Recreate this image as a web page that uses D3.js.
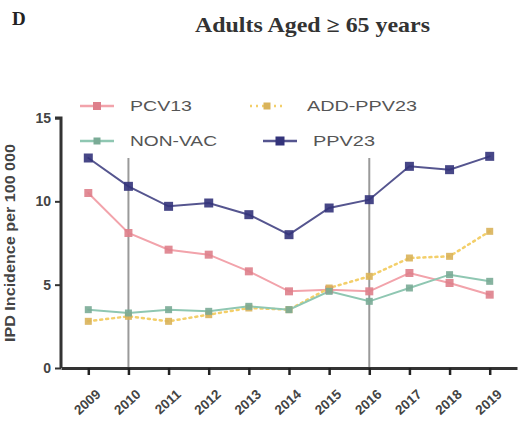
<!DOCTYPE html>
<html><head><meta charset="utf-8">
<script src="https://cdn.jsdelivr.net/npm/d3@7/dist/d3.min.js"></script>
<style>body{margin:0;background:#fff}svg{display:block}</style>
</head><body><svg id="c" width="519" height="421"></svg>
<script>
const years = [2009,2010,2011,2012,2013,2014,2015,2016,2017,2018,2019];
const pcv13 = [10.5,8.1,7.1,6.8,5.8,4.6,4.7,4.6,5.7,5.1,4.4];
const addPpv23 = [2.8,3.1,2.8,3.2,3.6,3.5,4.8,5.5,6.6,6.7,8.2];
const nonVac = [3.5,3.3,3.5,3.4,3.7,3.5,4.6,4.0,4.8,5.6,5.2];
const ppv23 = [12.6,10.9,9.7,9.9,9.2,8.0,9.6,10.1,12.1,11.9,12.7];
const yTicks = [0,5,10,15];
const markYears = [2010,2016];
const seriesNames = ["PCV13","ADD-PPV23","NON-VAC","PPV23"];

const svg = d3.select("#c");
const x = d3.scalePoint().domain(years).range([61,517]).padding(0.68);
const y = d3.scaleLinear().domain([0,15]).range([368,118]);

const series = [
  {name:seriesNames[0], vals:pcv13, line:"#f2a3ab", mark:"#de7f8b", dash:null, size:8},
  {name:seriesNames[1], vals:addPpv23, line:"#f3cf6a", mark:"#d9b35a", dash:"2,4", size:7},
  {name:seriesNames[2], vals:nonVac, line:"#8fc7b2", mark:"#7aab96", dash:null, size:7},
  {name:seriesNames[3], vals:ppv23, line:"#55558f", mark:"#33337a", dash:null, size:9}
];

// title
svg.append("text").attr("x",12).attr("y",25).attr("font-family","Liberation Serif")
  .attr("font-weight","bold").attr("font-size",19).attr("fill","#222").text("D");
svg.append("text").attr("x",195).attr("y",32).attr("font-family","Liberation Serif")
  .attr("font-weight","bold").attr("font-size",21).attr("fill","#333")
  .attr("textLength",235).attr("lengthAdjust","spacingAndGlyphs").text("Adults Aged ≥ 65 years");

// vertical reference lines
markYears.forEach(yr=>{
  svg.append("line").attr("x1",x(yr)).attr("x2",x(yr)).attr("y1",158).attr("y2",368)
    .attr("stroke","#9a9a9a").attr("stroke-width",2);
});

// axes
const yAxis = svg.append("g").attr("transform","translate(61,0)")
  .call(d3.axisLeft(y).tickValues(yTicks).tickSize(6).tickPadding(4));
yAxis.select(".domain").attr("stroke","#333").attr("stroke-width",3).attr("d","M-6,118H0V368");
yAxis.selectAll(".tick line").attr("stroke","#333").attr("stroke-width",2);
yAxis.selectAll("text").attr("font-family","Liberation Sans").attr("font-weight","bold").attr("font-size",14).attr("fill","#444");

const xAxis = svg.append("g").attr("transform","translate(0,368)")
  .call(d3.axisBottom(x).tickSize(7).tickSizeOuter(0));
xAxis.select(".domain").attr("stroke","#333").attr("stroke-width",3);
xAxis.selectAll(".tick line").attr("stroke","#222").attr("stroke-width",2.5);
xAxis.selectAll("text").attr("font-family","Liberation Sans").attr("font-weight","bold").attr("font-size",13.5)
  .attr("fill","#444").attr("text-anchor","end").attr("dy",0).attr("dx",0)
  .attr("transform","translate(6,20) rotate(-42)");

// y label
svg.append("text").attr("transform","translate(15,243) rotate(-90)").attr("text-anchor","middle")
  .attr("font-family","Liberation Sans").attr("font-weight","bold").attr("font-size",14).attr("fill","#444")
  .attr("textLength",198).attr("lengthAdjust","spacingAndGlyphs")
  .text("IPD Incidence per 100 000");

// lines and markers
const lineGen = d3.line().x((d,i)=>x(years[i])).y(d=>y(d));
series.forEach(s=>{
  svg.append("path").datum(s.vals).attr("d",lineGen).attr("fill","none").attr("stroke",s.line)
    .attr("stroke-width",s.dash?2.5:2).attr("stroke-dasharray",s.dash).attr("stroke-linecap","round");
});
series.forEach(s=>{
  svg.selectAll(null).data(s.vals).enter().append("rect")
    .attr("x",(d,i)=>x(years[i])-s.size/2).attr("y",d=>y(d)-s.size/2)
    .attr("width",s.size).attr("height",s.size).attr("fill",s.mark).attr("opacity",0.9);
});

// legend
const legPos = [[80,106],[250,106],[80,141],[263,141]];
const legText = [[130,106,62],[307,106,110],[130,141,87],[313,141,62]];
series.forEach((s,i)=>{
  const [lx,ly]=legPos[i];
  svg.append("line").attr("x1",lx).attr("x2",lx+34).attr("y1",ly).attr("y2",ly)
    .attr("stroke",s.line).attr("stroke-width",2.5).attr("stroke-dasharray",s.dash);
  svg.append("rect").attr("x",lx+17-s.size/2).attr("y",ly-s.size/2).attr("width",s.size).attr("height",s.size)
    .attr("fill",s.mark);
  svg.append("text").attr("x",legText[i][0]).attr("y",legText[i][1]).attr("dy","0.35em")
    .attr("font-family","Liberation Sans").attr("font-size",15).attr("fill","#555")
    .attr("textLength",legText[i][2]).attr("lengthAdjust","spacingAndGlyphs").text(s.name);
});
</script></body></html>
